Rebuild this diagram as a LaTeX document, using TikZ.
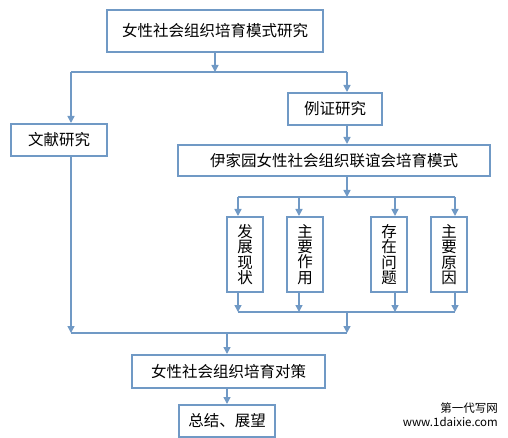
\documentclass[tikz,border=0pt]{standalone}
\usepackage{fontspec}
\setmainfont{Noto Sans CJK SC}
\usepackage{tikz}
\usetikzlibrary{arrows.meta,positioning}
\usepackage{xcolor}
\definecolor{linkblue}{RGB}{112,153,197}

\begin{document}
\begin{tikzpicture}[
  x=1pt, y=-1pt,
  >={Stealth[length=7pt,width=7pt,inset=0pt]},
  every node/.style={font=\fontsize{15.5}{15.3}\selectfont},
  blk/.style={draw=linkblue, line width=2pt, fill=white, inner sep=0pt,
              text centered},
  sub/.style={blk, minimum width=36pt, minimum height=75pt, align=center},
  arr/.style={->, draw=linkblue, line width=1.5pt},
  bus/.style={draw=linkblue, line width=1.5pt}
]
\useasboundingbox (0,0) rectangle (508,438);

%% Nodes
\node[blk, minimum width=216pt, minimum height=42pt] (top)    at (215,31)    {女性社会组织培育模式研究};
\node[blk, minimum width=96pt,  minimum height=32pt] (lit)    at (59,140)    {文献研究};
\node[blk, minimum width=94pt,  minimum height=32pt] (case)   at (335,109)   {例证研究};
\node[blk, minimum width=312pt, minimum height=31pt] (model)  at (334,160.5) {伊家园女性社会组织联谊会培育模式};
\node[sub] (stat)  at (245,254.5) {发\\展\\现\\状};
\node[sub] (role)  at (305,254.5) {主\\要\\作\\用};
\node[sub] (prob)  at (389,254.5) {存\\在\\问\\题};
\node[sub] (cause) at (449,254.5) {主\\要\\原\\因};
\node[blk, minimum width=193pt, minimum height=33pt] (policy) at (228.5,371.5) {女性社会组织培育对策};
\node[blk, minimum width=96pt,  minimum height=32pt] (concl)  at (227,421)   {总结、展望};

%% Junctions
\coordinate (split)  at (215,72);
\coordinate (litx)   at (71,72);
\coordinate (casex)  at (347,72);
\coordinate (fan)    at (347,197);
\coordinate (gather) at (347,312);
\coordinate (merge)  at (227,333);

%% Arrows
\draw[arr] (top) -- (split);
\draw[bus] (litx) -- (casex);
\draw[arr] (litx) -- (litx |- lit.north);
\draw[arr] (casex) -- (casex |- case.north);
\draw[arr] (casex |- case.south) -- (casex |- model.north);
\draw[arr] (casex |- model.south) -- (fan);
\draw[bus] (238,197) -- (455,197);
\draw[arr] (238,197) -- (238,0 |- stat.north);
\draw[arr] (299,197) -- (299,0 |- role.north);
\draw[arr] (395,197) -- (395,0 |- prob.north);
\draw[arr] (455,197) -- (455,0 |- cause.north);
\draw[arr] (238,0 |- stat.south)  -- (238,312);
\draw[arr] (299,0 |- role.south)  -- (299,312);
\draw[arr] (395,0 |- prob.south)  -- (395,312);
\draw[arr] (455,0 |- cause.south) -- (455,312);
\draw[bus] (238,312) -- (455,312);
\draw[arr] (gather) -- (347,333);
\draw[arr] (litx |- lit.south) -- (71,333);
\draw[bus] (71,333) -- (347,333);
\draw[arr] (merge) -- (merge |- policy.north);
\draw[arr] (merge |- policy.south) -- (merge |- concl.north);

%% Watermark
\node[anchor=north east, align=right, inner sep=0pt,
      font=\fontsize{11.5}{14}\selectfont] (mark) at (498,403)
  {第一代写网\\www.1daixie.com};
\end{tikzpicture}
\end{document}
